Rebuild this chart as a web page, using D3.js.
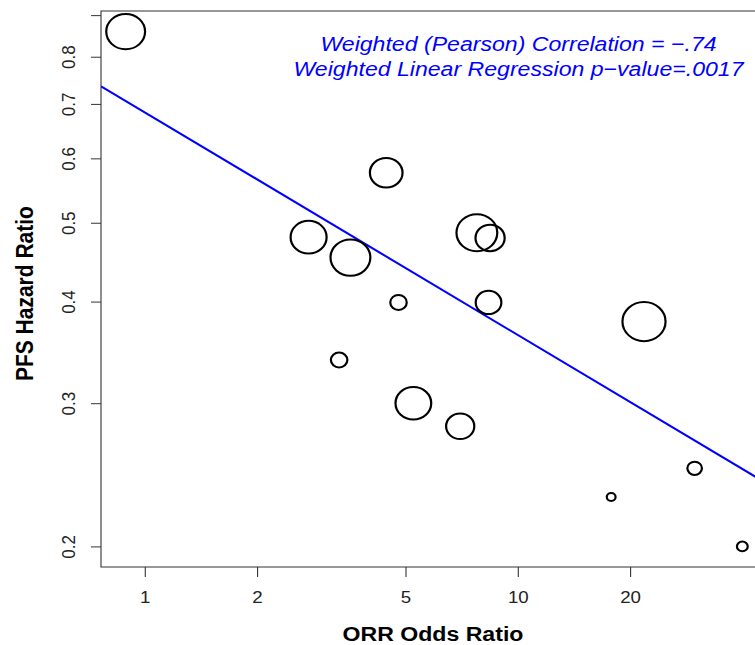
<!DOCTYPE html>
<html>
<head>
<meta charset="utf-8">
<script src="https://cdn.jsdelivr.net/npm/d3@7"></script>
<style>
  body { margin: 0; background: #fff; }
  svg { display: block; font-family: "Liberation Sans", Arial, sans-serif; }
</style>
</head>
<body>
<div id="chart"></div>
<script>
// bubble plot: ORR odds ratio vs PFS hazard ratio, log-log, weighted

// one point per trial
var orrOdds = [0.889, 4.44, 2.75, 3.56, 7.77, 8.43, 4.79, 8.35, 3.32, 5.25, 7.01, 21.8, 29.8, 17.8, 40.0];
var pfsHR   = [0.859, 0.576, 0.480, 0.453, 0.486, 0.479, 0.399, 0.399, 0.339, 0.300, 0.281, 0.378, 0.2495, 0.230, 0.200];
var weights = [78, 55, 67, 82, 86, 44, 14, 34, 14, 66, 41, 96, 11, 4, 6];

// weighted fit on log10 scale: log10(HR) = a + b * log10(OR)
var fitCoef = [-0.1653, -0.2737];

var xTicks = [1, 2, 5, 10, 20];
var yTicks = [0.2, 0.3, 0.4, 0.5, 0.6, 0.7, 0.8, 0.9];
var yTickLabels = ["0.2", "0.3", "0.4", "0.5", "0.6", "0.7", "0.8", ""];

var annot = ["Weighted (Pearson) Correlation = \u2212.74",
             "Weighted Linear Regression p\u2212value=.0017"];
var xTitle = "ORR Odds Ratio",
    yTitle = "PFS Hazard Ratio";

var W = 755, H = 645,
    sx = 1.1; // picture is stretched sideways, circles come out as ellipses

var pLeft = 101 / sx, pTop = 11, pBottom = 567, pRight = 767 / sx;

var data = orrOdds.map(function(d, i) {
  return { or: d, hr: pfsHR[i], w: weights[i] };
});

// R-style 4% padding on the log range
function padLog(ext) {
  var a = Math.log10(ext[0]), b = Math.log10(ext[1]), p = (b - a) * 0.04;
  return [Math.pow(10, a - p), Math.pow(10, b + p)];
}

var x = d3.scaleLog().domain(padLog(d3.extent(orrOdds))).range([pLeft, pRight]);
var y = d3.scaleLog().domain(padLog(d3.extent(pfsHR))).range([pBottom, pTop]);
var r = d3.scaleSqrt().domain([0, 100]).range([0, 20]);

var svg = d3.select('#chart').append('svg')
    .attr('width', W)
    .attr('height', H);

var g = svg.append('g')
    .attr('transform', 'scale(' + sx + ',1)');

g.append('clipPath').attr('id', 'plotclip')
  .append('rect')
    .attr('x', pLeft).attr('y', pTop)
    .attr('width', pRight - pLeft).attr('height', pBottom - pTop);

// box
g.append('rect')
    .attr('x', pLeft).attr('y', pTop)
    .attr('width', pRight - pLeft).attr('height', pBottom - pTop)
    .attr('fill', 'none')
    .attr('stroke', '#333')
    .attr('stroke-width', 1);

// x axis
var gx = g.append('g')
    .attr('transform', 'translate(0,' + pBottom + ')')
    .call(d3.axisBottom(x)
      .tickValues(xTicks)
      .tickFormat(d3.format('d'))
      .tickSize(10)
      .tickPadding(13.6));
gx.select('.domain').remove();
gx.selectAll('.tick line').attr('stroke', '#333');
gx.selectAll('.tick text')
    .attr('fill', '#222')
    .style('font-size', '17px')
    .style('font-family', '"Liberation Sans", Arial, sans-serif');

// y axis, labels turned like R's las=0
var gy = g.append('g')
    .attr('transform', 'translate(' + pLeft + ',0)')
    .call(d3.axisLeft(y)
      .tickValues(yTicks)
      .tickFormat(function(d, i) { return yTickLabels[i]; })
      .tickSize(10 / sx));
gy.select('.domain').remove();
gy.selectAll('.tick line').attr('stroke', '#333');
gy.selectAll('.tick text')
    .attr('transform', 'rotate(-90)')
    .attr('x', 0)
    .attr('y', -26 / sx)
    .attr('dy', null)
    .attr('text-anchor', 'middle')
    .attr('fill', '#222')
    .style('font-size', '17px')
    .style('font-family', '"Liberation Sans", Arial, sans-serif');

// regression line across the plot region
var xd = x.domain();
var fitLine = xd.map(function(v) {
  return [v, Math.pow(10, fitCoef[0] + fitCoef[1] * Math.log10(v))];
});
g.append('path')
    .datum(fitLine)
    .attr('clip-path', 'url(#plotclip)')
    .attr('fill', 'none')
    .attr('stroke', '#0000ff')
    .attr('stroke-width', 2)
    .attr('d', d3.line()
      .x(function(d) { return x(d[0]); })
      .y(function(d) { return y(d[1]); }));

// bubbles
g.selectAll('circle.pt')
    .data(data)
  .enter().append('circle')
    .attr('class', 'pt')
    .attr('cx', function(d) { return x(d.or); })
    .attr('cy', function(d) { return y(d.hr); })
    .attr('r', function(d) { return r(d.w); })
    .attr('fill', 'none')
    .attr('stroke', '#000')
    .attr('stroke-width', 2);

// annotation
g.selectAll('text.annot')
    .data(annot)
  .enter().append('text')
    .attr('class', 'annot')
    .attr('x', 518.5 / sx)
    .attr('y', function(d, i) { return 51.3 + i * 24.4; })
    .attr('text-anchor', 'middle')
    .attr('fill', '#0000ff')
    .style('font-size', '21px')
    .style('font-style', 'italic')
    .text(function(d) { return d; });

// axis titles
g.append('text')
    .attr('x', 433 / sx)
    .attr('y', 641.5)
    .attr('text-anchor', 'middle')
    .style('font-size', '21px')
    .style('font-weight', 'bold')
    .text(xTitle);

g.append('text')
    .attr('transform', 'translate(' + (33.3 / sx) + ',293.6) rotate(-90)')
    .attr('text-anchor', 'middle')
    .style('font-size', '21px')
    .style('font-weight', 'bold')
    .text(yTitle);
</script>
</body>
</html>
